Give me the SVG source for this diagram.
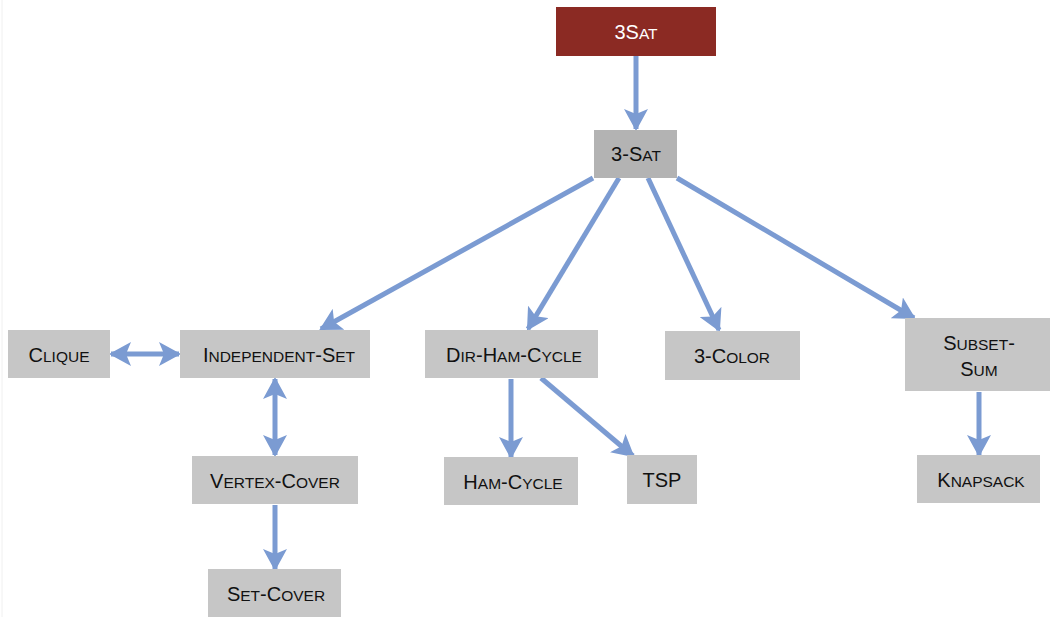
<svg xmlns="http://www.w3.org/2000/svg" width="1050" height="617" viewBox="0 0 1050 617">
<style>
.box{fill:#c6c6c6;}
.lbl{font-family:"Liberation Sans",Arial,sans-serif;font-size:20px;fill:#111;text-anchor:middle;}
.s{font-size:15.5px;}
.conn{stroke:#7b9bd2;stroke-width:5;fill:none;marker-end:url(#ah);}
.dbl{marker-start:url(#ah);}
</style>
<defs>
<marker id="ah" viewBox="0 0 22 24" refX="20" refY="12" markerWidth="22" markerHeight="24" markerUnits="userSpaceOnUse" orient="auto-start-reverse">
<path d="M0,0 L22,12 L0,24 L5,12 Z" fill="#7b9bd2"/>
</marker>
</defs>
<rect x="0" y="0" width="1050" height="617" fill="#fff"/>
<line x1="2" y1="0" x2="2" y2="617" stroke="#f0f0f0" stroke-width="1"/>
<g id="connectors">
<line class="conn" x1="636" y1="56" x2="636" y2="129"/>
<line class="conn" x1="593" y1="178" x2="321" y2="329"/>
<line class="conn" x1="619" y1="178" x2="528" y2="329"/>
<line class="conn" x1="648" y1="178" x2="719" y2="330"/>
<line class="conn" x1="677" y1="178" x2="914" y2="318"/>
<line class="conn dbl" x1="111" y1="354" x2="179" y2="354"/>
<line class="conn dbl" x1="275" y1="379" x2="275" y2="455"/>
<line class="conn" x1="275" y1="505" x2="275" y2="569"/>
<line class="conn" x1="511" y1="379" x2="511" y2="457"/>
<line class="conn" x1="541" y1="378" x2="633" y2="456"/>
<line class="conn" x1="979" y1="392" x2="979" y2="455"/>
</g>
<g id="n3sat-top">
<rect x="556" y="7" width="160" height="49" fill="#8b2a23"/>
<text class="lbl" x="636" y="39" style="fill:#fff">3S<tspan class="s">AT</tspan></text>
</g>
<g id="n3sat">
<rect x="594" y="130" width="83" height="48" fill="#b3b3b3"/>
<text class="lbl" x="636" y="161">3-S<tspan class="s">AT</tspan></text>
</g>
<g id="clique">
<rect class="box" x="8" y="330" width="102" height="48"/>
<text class="lbl" x="59" y="362">C<tspan class="s">LIQUE</tspan></text>
</g>
<g id="indset">
<rect class="box" x="180" y="330" width="190" height="48"/>
<text class="lbl" x="279" y="362">I<tspan class="s">NDEPENDENT</tspan>-S<tspan class="s">ET</tspan></text>
</g>
<g id="dirham">
<rect class="box" x="425" y="330" width="173" height="48"/>
<text class="lbl" x="514" y="362">D<tspan class="s">IR</tspan>-H<tspan class="s">AM</tspan>-C<tspan class="s">YCLE</tspan></text>
</g>
<g id="color3">
<rect class="box" x="665" y="331" width="135" height="49"/>
<text class="lbl" x="732" y="363">3-C<tspan class="s">OLOR</tspan></text>
</g>
<g id="subsetsum">
<rect class="box" x="905" y="318" width="145" height="73"/>
<text class="lbl" x="979" y="350">S<tspan class="s">UBSET</tspan>-</text>
<text class="lbl" x="979" y="376">S<tspan class="s">UM</tspan></text>
</g>
<g id="vertexcover">
<rect class="box" x="192" y="456" width="166" height="48"/>
<text class="lbl" x="275" y="488">V<tspan class="s">ERTEX</tspan>-C<tspan class="s">OVER</tspan></text>
</g>
<g id="setcover">
<rect class="box" x="208" y="569" width="133" height="48"/>
<text class="lbl" x="276" y="601">S<tspan class="s">ET</tspan>-C<tspan class="s">OVER</tspan></text>
</g>
<g id="hamcycle">
<rect class="box" x="444" y="457" width="134" height="48"/>
<text class="lbl" x="513" y="489">H<tspan class="s">AM</tspan>-C<tspan class="s">YCLE</tspan></text>
</g>
<g id="tsp">
<rect class="box" x="627" y="455" width="70" height="49"/>
<text class="lbl" x="662" y="487">TSP</text>
</g>
<g id="knapsack">
<rect class="box" x="917" y="455" width="123" height="48"/>
<text class="lbl" x="981" y="487">K<tspan class="s">NAPSACK</tspan></text>
</g>
</svg>
